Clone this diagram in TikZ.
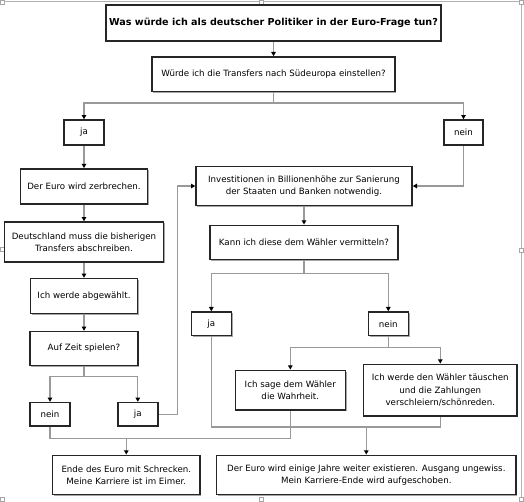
\documentclass[tikz,border=0pt]{standalone}
\usepackage{fontspec}
\setmainfont{DejaVu Sans}
\usetikzlibrary{arrows.meta,shadows}
\begin{document}
\begin{tikzpicture}[x=0.75pt,y=-0.75pt,
 box/.style={draw=black!85, line width=1.1pt, fill=white, inner sep=0pt, align=center,
   font=\fontsize{6.5}{9.2}\selectfont, text=black,
   general shadow={fill=black!35, shadow xshift=0.9pt, shadow yshift=-0.9pt}},
 titlebox/.style={box, line width=1.5pt, font=\fontsize{7.2}{9}\selectfont\bfseries},
 sz/.style 2 args={minimum width=#1*0.75pt, minimum height=#2*0.75pt},
 conn/.style={draw=black!40, line width=0.9pt},
 arr/.style={conn, -{Triangle[length=3.2pt,width=3.4pt,color=black]}},
 handle/.style={draw=black!35, fill=white, line width=0.4pt},
 frameline/.style={draw=black!30, line width=0.6pt}
]
\useasboundingbox (0,0) rectangle (524,501);
% selection frame
\draw[frameline] (2,1) -- (521,1) -- (521,499);
\foreach \hx/\hy in {0/0,259/0,519/0,0/247,519/248,0/497,259/497,519/497}
  \draw[handle] (\hx+0.5,\hy+0.5) rectangle ++(4,4);

% nodes
\node[titlebox, sz={335}{36}] (title) at (273.5,23) {Was würde ich als deutscher Politiker in der Euro-Frage tun?};
\node[box, sz={243}{34.5}] (q1) at (273.5,74.2) {Würde ich die Transfers nach Südeuropa einstellen?};
\node[box, sz={40}{25}] (ja1) at (84,132.5) {ja};
\node[box, sz={39}{25}] (nein1) at (463.5,132.5) {nein};
\node[box, sz={127}{35}] (euro) at (84,186.3) {Der Euro wird zerbrechen.};
\node[box, sz={159}{40}] (deut) at (84,242) {Deutschland muss die bisherigen\\Transfers abschreiben.};
\node[box, sz={107}{35}] (abgew) at (84,296) {Ich werde abgewählt.};
\node[box, sz={108}{34}] (zeit) at (84,348.5) {Auf Zeit spielen?};
\node[box, sz={40}{23.5}] (nein3) at (50,414.3) {nein};
\node[box, sz={40}{23.5}] (ja3) at (137.8,414.3) {ja};
\node[box, sz={216}{38.6}] (invest) at (304,186) {Investitionen in Billionenhöhe zur Sanierung\\der Staaten und Banken notwendig.};
\node[box, sz={187.7}{34}] (kann) at (304,242.3) {Kann ich diese dem Wähler vermitteln?};
\node[box, sz={40}{23.7}] (ja2) at (211.3,323.8) {ja};
\node[box, sz={40}{23.7}] (nein2) at (388.3,323.8) {nein};
\node[box, sz={110}{39.7}] (wahr) at (290.3,390.2) {Ich sage dem Wähler\\die Wahrheit.};
\node[box, sz={153.3}{51.7}] (taeu) at (440.3,390.2) {Ich werde den Wähler täuschen\\und die Zahlungen\\verschleiern/schönreden.};
\node[box, sz={147.3}{39.4}] (ende) at (126.3,475) {Ende des Euro mit Schrecken.\\Meine Karriere ist im Eimer.};
\node[box, sz={299.3}{39.4}] (weiter) at (366.3,475) {Der Euro wird einige Jahre weiter existieren. Ausgang ungewiss.\\Mein Karriere-Ende wird aufgeschoben.};

% junction coordinates
\coordinate (s1) at (273.5,103);
\coordinate (s2) at (84,376.7);
\coordinate (s3) at (304,273.7);
\coordinate (s4) at (388.3,347.3);
\coordinate (s5) at (126.3,438.3);
\coordinate (s6) at (366.3,427);
\coordinate (j3r) at (177.7,414.3);

% connectors
\draw[arr] (title) -- (q1);
\draw[conn] (q1.south) -- (s1);
\draw[arr] (s1) -| (ja1.north);
\draw[arr] (s1) -| (nein1.north);
\draw[arr] (ja1) -- (euro);
\draw[arr] (euro) -- (deut);
\draw[arr] (deut) -- (abgew);
\draw[arr] (abgew) -- (zeit);
\draw[conn] (zeit.south) -- (s2);
\draw[arr] (s2) -| (nein3.north);
\draw[arr] (s2) -| (ja3.north);
\draw[arr] (nein1.south) |- (invest.east);
\draw[arr] (ja3.east) -- (j3r) |- (invest.west);
\draw[arr] (invest) -- (kann);
\draw[conn] (kann.south) -- (s3);
\draw[arr] (s3) -| (ja2.north);
\draw[arr] (s3) -| (nein2.north);
\draw[conn] (nein2.south) -- (s4);
\draw[arr] (s4) -| (wahr.north);
\draw[arr] (s4) -| (taeu.north);
\draw[conn] (nein3.south) |- (s5) -| (wahr.south);
\draw[arr] (s5) -- (ende.north);
\draw[conn] (ja2.south) |- (s6) -| (taeu.south);
\draw[arr] (s6) -- (weiter.north);
\end{tikzpicture}
\end{document}
